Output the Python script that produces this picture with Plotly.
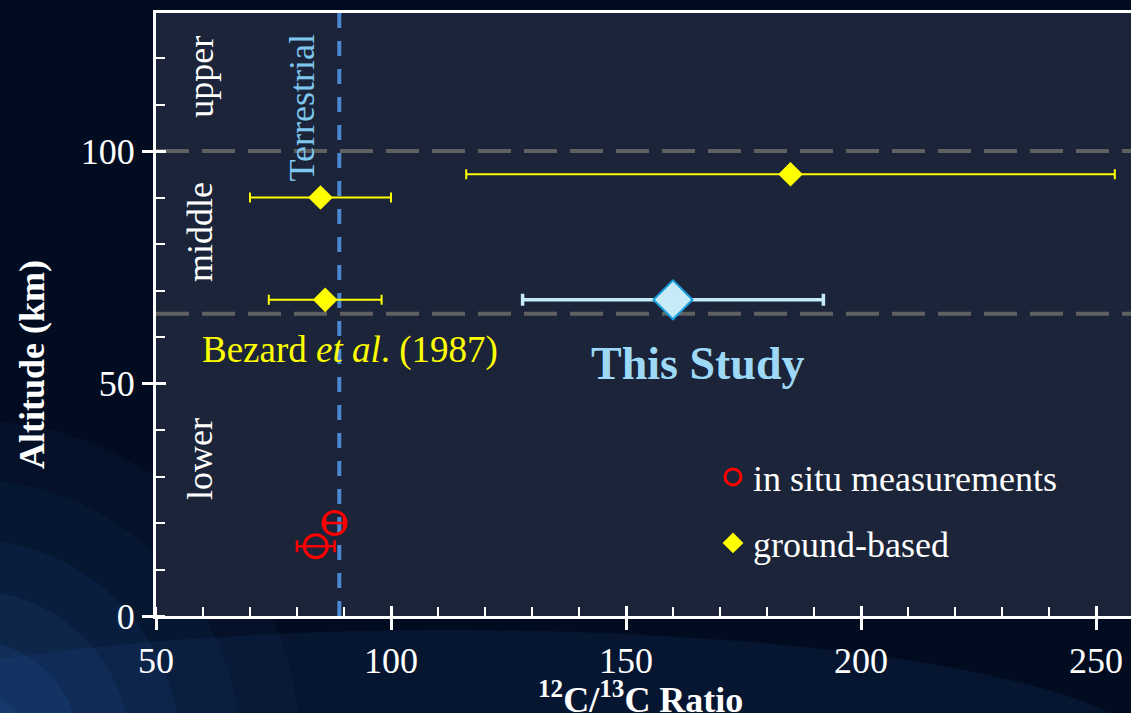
import plotly.graph_objects as go

# ---- data -------------------------------------------------------------
ground_ratio = [85, 86, 185]
ground_alt = [90, 68, 95]
ground_err = [15, 12, 69]

insitu_ratio = [84, 88]
insitu_alt = [15, 20]
insitu_err = [4, 2]

study_ratio = [160]
study_alt = [68]
study_err = [32]

terrestrial_ratio = 89
layer_bounds = [65, 100]

x_ticks = [50, 100, 150, 200, 250]
y_ticks = [0, 50, 100]

# ---- page geometry (pixels) -------------------------------------------
W, H = 1131, 713
L, R, T, B = 156, 0, 13, 97
PW, PH = W - L - R, H - T - B
X_RANGE = [50, 50 + PW / 4.7]
Y_RANGE = [0, PH / 4.65]


def px(xp):
    return (xp - L) / PW


def py(yp):
    return (H - B - yp) / PH


SERIF = "Liberation Serif"
WHITE = "#ffffff"
YELLOW = "#ffff00"
RED = "#ff0000"
LIGHTBLUE = "#c6ebf7"

fig = go.Figure()

fig.add_trace(go.Scatter(
    x=insitu_ratio, y=insitu_alt, mode="markers", name="in situ measurements",
    marker=dict(symbol="circle-open", size=23, color=RED, line=dict(width=3, color=RED)),
    error_x=dict(type="data", array=insitu_err, color=RED, thickness=2.5, width=6),
    legend="legend",
))
fig.add_trace(go.Scatter(
    x=ground_ratio, y=ground_alt, mode="markers", name="ground-based",
    marker=dict(symbol="diamond", size=19, color=YELLOW, line=dict(width=0)),
    error_x=dict(type="data", array=ground_err, color=YELLOW, thickness=2, width=5),
    legend="legend2",
))
# this work, on the matching overlay axes (which carry the inner tick marks)
fig.add_trace(go.Scatter(
    x=study_ratio, y=study_alt, mode="markers", name="This Study", showlegend=False,
    xaxis="x2", yaxis="y2",
    marker=dict(symbol="diamond", size=30, color=LIGHTBLUE, line=dict(width=2, color="#1aa0e0")),
    error_x=dict(type="data", array=study_err, color=LIGHTBLUE, thickness=3.5, width=6),
))

shapes = []
# faint band along the bottom of the slide
shapes.append(dict(type="circle", xref="paper", yref="paper",
                   x0=px(-250), x1=px(1150), y0=py(880), y1=py(630),
                   fillcolor="#1d4a86", opacity=0.16, line=dict(width=0), layer="below"))
# soft blue glow of the slide background, bottom-left corner
for r, op in [(330, 0.05), (270, 0.06), (210, 0.08), (160, 0.09), (110, 0.10), (60, 0.10)]:
    cx, cy = -30, 750
    shapes.append(dict(type="circle", xref="paper", yref="paper",
                       x0=px(cx - r), x1=px(cx + r), y0=py(cy + r), y1=py(cy - r),
                       fillcolor="#3478cc", opacity=op, line=dict(width=0), layer="below"))
# plot area panel
shapes.append(dict(type="rect", xref="x domain", yref="y domain", x0=0, x1=1, y0=0, y1=1,
                   fillcolor="#1b2438", line=dict(width=0), layer="below"))
# atmospheric layer boundaries
for b in layer_bounds:
    shapes.append(dict(type="line", xref="x domain", yref="y", x0=0, x1=1, y0=b, y1=b,
                       line=dict(color="#606060", width=4, dash="33px,13px"), layer="below"))
# terrestrial reference ratio
shapes.append(dict(type="line", xref="x", yref="y domain", x0=terrestrial_ratio, x1=terrestrial_ratio,
                   y0=0, y1=1, line=dict(color="#4a88d0", width=4, dash="15px,13px"), layer="below"))

annotations = [
    dict(text="upper", x=59.4, y=116, textangle=-90, font=dict(size=36, color=WHITE)),
    dict(text="middle", x=59.4, y=82.6, textangle=-90, font=dict(size=36, color=WHITE)),
    dict(text="lower", x=59.4, y=33.8, textangle=-90, font=dict(size=36, color=WHITE)),
    dict(text="Terrestrial", x=81.1, y=109.2, textangle=-90, font=dict(size=36, color="#7fc6ee")),
    dict(text="Bezard <i>et al</i>. (1987)", x=91.3, y=57.2, font=dict(size=37, color=YELLOW)),
    dict(text="<b>This Study</b>", x=165.3, y=54.4, font=dict(size=46, color="#9dd9f6")),
    dict(text="<b>Altitude (km)</b>", xref="paper", yref="paper", x=px(32), y=py(365),
         textangle=-90, font=dict(size=36, color=WHITE)),
    dict(text="<b><sup>12</sup>C/<sup>13</sup>C Ratio</b>", xref="paper", yref="paper",
         x=px(640), y=py(697), font=dict(size=36, color=WHITE)),
]
for a in annotations:
    a.setdefault("xref", "x")
    a.setdefault("yref", "y")
    a.update(showarrow=False, xanchor="center", yanchor="middle")
    a["font"]["family"] = SERIF

axis_common = dict(
    showgrid=False, zeroline=False, showline=True, linecolor=WHITE, linewidth=3,
    ticks="outside", ticklen=11, tickwidth=2.5, tickcolor=WHITE,
    tickfont=dict(family=SERIF, size=36, color=WHITE),
    minor=dict(ticks="inside", ticklen=9, tickwidth=2, tickcolor=WHITE, dtick=10, showgrid=False),
)
# inner halves of the major ticks, drawn on matching overlay axes
inner_ticks = dict(showgrid=False, zeroline=False, showline=False, showticklabels=False,
                   ticks="inside", ticklen=10, tickwidth=2.5, tickcolor=WHITE)

fig.update_layout(
    width=W, height=H,
    margin=dict(l=L, r=R, t=T, b=B, autoexpand=False),
    paper_bgcolor="#020c21",
    plot_bgcolor="rgba(0,0,0,0)",
    font=dict(family=SERIF, color=WHITE),
    xaxis=dict(range=X_RANGE, tickvals=x_ticks, mirror=True, **axis_common),
    yaxis=dict(range=Y_RANGE, tickvals=y_ticks, **axis_common),
    xaxis2=dict(overlaying="x", matches="x", anchor="y2", side="bottom", tickvals=x_ticks, **inner_ticks),
    yaxis2=dict(overlaying="y", matches="y", anchor="x2", side="left", tickvals=y_ticks, **inner_ticks),
    shapes=shapes,
    annotations=annotations,
    legend=dict(x=px(713), y=py(477), xanchor="left", yanchor="middle",
                bgcolor="rgba(0,0,0,0)", borderwidth=0,
                font=dict(family=SERIF, size=36, color=WHITE)),
    legend2=dict(x=px(713), y=py(543), xanchor="left", yanchor="middle",
                 bgcolor="rgba(0,0,0,0)", borderwidth=0,
                 font=dict(family=SERIF, size=36, color=WHITE)),
)

fig.write_html("out.html")
